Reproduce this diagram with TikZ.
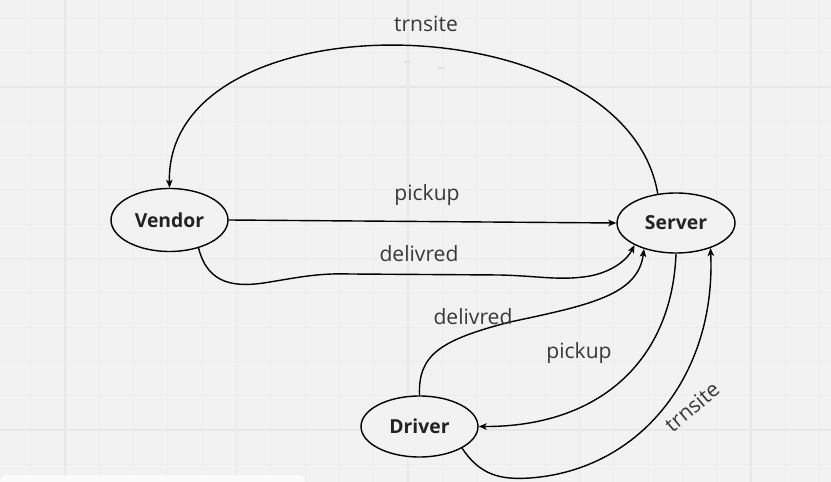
\documentclass[tikz,border=0pt]{standalone}
\usepackage{fontspec}
\setmainfont{Open Sans}
\usepackage{xcolor}
\usepackage{tikz}
\usetikzlibrary{arrows.meta, shapes.geometric, positioning}

\definecolor{boardbg}{HTML}{F2F2F2}
\definecolor{gridminor}{HTML}{EDEDED}
\definecolor{gridmajor}{HTML}{E8E8E8}
\definecolor{labelink}{HTML}{383838}
\definecolor{nodeink}{HTML}{222222}

\begin{document}
\begin{tikzpicture}[
  x=0.02cm, y=-0.02cm,
  >={Stealth[length=1.6mm,width=1.3mm,inset=0.4mm]},
  actor/.style={ellipse, draw=black, line width=0.8pt, fill=boardbg, text=nodeink,
    minimum width=2.34cm, minimum height=1.26cm, inner sep=0pt,
    font=\fontsize{11}{13}\selectfont\bfseries},
  flowlabel/.style={text=labelink, font=\fontsize{12}{14}\selectfont, inner sep=1pt},
  flow/.style={->, line width=0.8pt, black}
]
\useasboundingbox (0,0) rectangle (831,482);
% board
\fill[boardbg] (0,0) rectangle (831,482);
\foreach \k in {-1,...,22}
  \draw[gridminor, line width=0.5pt] ({65+34.3*\k},0) -- ({65+34.3*\k},482);
\foreach \k in {-2,...,11}
  \draw[gridminor, line width=0.5pt] (0,{87+34.3*\k}) -- (831,{87+34.3*\k});
\foreach \k in {0,...,4}
  \draw[gridmajor, line width=0.8pt] ({65+171.5*\k},0) -- ({65+171.5*\k},482);
\foreach \k in {0,...,2}
  \draw[gridmajor, line width=0.8pt] (0,{87+171.5*\k}) -- (831,{87+171.5*\k});
\fill[white!60!boardbg, rounded corners=3pt] (0,475) -- (305,475) -- (305,490) -- (0,490) -- cycle;
\draw[gray!22, line width=0.6pt] (403,62) -- (410,62);
\draw[gray!22, line width=0.6pt] (437,68) -- (445,68);

% actors
\node[actor] (vendor) at (169.5,220) {Vendor};
\node[actor, minimum width=2.36cm, minimum height=1.2cm] (server) at (676,223) {Server};
\node[actor, minimum height=1.22cm] (driver) at (419.5,426.5) {Driver};

% vendor <-> server
\draw[flow] (server.122) .. controls (625,0) and (165,-5) .. (vendor.north);
\node[flowlabel] (trnsite-top) at (426,24) {trnsite};
\draw[flow] (vendor.east) -- (server.west);
\node[flowlabel] (pickup-top) at (427,195) {pickup};
\draw[flow] (vendor.-44) .. controls (208,285) and (235,288) .. (270,282)
  .. controls (300,277) and (320,273) .. (350,274) -- (500,275)
  .. controls (540,276) and (560,281) .. (590,276)
  .. controls (615,271) and (628,258) .. (server.-152);
\node[flowlabel] (delivred-top) at (419,254) {delivred};

% driver <-> server
\draw[flow] (driver.north) .. controls (418,355) and (440,340) .. (510,322)
  .. controls (590,305) and (638,295) .. (server.-141);
\node[flowlabel] (delivred-low) at (473,317) {delivred};
\draw[flow] (server.south) .. controls (672,360) and (600,427) .. (driver.east);
\node[flowlabel] (pickup-low) at (579,353) {pickup};
\draw[flow] (driver.-27) .. controls (480,475) and (500,480) .. (530,478)
  .. controls (640,470) and (716,375) .. (server.-36);
\node[flowlabel, rotate=40] (trnsite-low) at (692,407) {trnsite};
\end{tikzpicture}
\end{document}
